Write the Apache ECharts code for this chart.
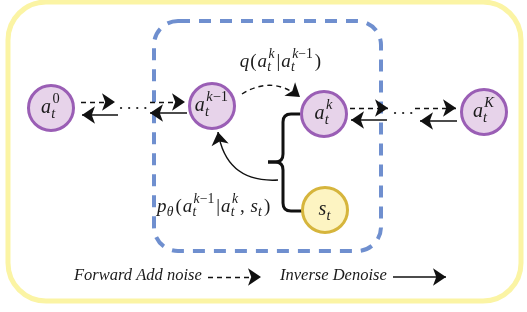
<!DOCTYPE html>
<html>
<head>
<meta charset="utf-8">
<script src="https://cdn.jsdelivr.net/npm/echarts@6/dist/echarts.min.js"></script>
<style>
    html, body { margin: 0; padding: 0; background: #fff; }
    #chart { width: 527px; height: 312px; }
</style>
</head>
<body>
<div id="chart"></div>
<script>
    // diagram nodes (x, y in the picture's pixel grid)
    var nodeX = [51, 212, 324, 484, 325];
    var nodeY = [108, 106, 114, 112, 210];
    var nodeKind = ['a', 'a', 'a', 'a', 's'];
    var nodeText = ['a_t^0', 'a_t^{k−1}', 'a_t^k', 'a_t^K', 's_t'];

    // forward (add noise) arrows, dashed
    var forwardFrom = [[81, 102], [150, 102], [350, 108], [415, 108], [242, 94], [208, 277]];
    var forwardTo = [[115, 102], [185, 102], [388, 108], [456, 108], [300, 97], [261, 277]];
    var forwardBend = [0, 0, 0, 0, 0.35, 0];

    // inverse (denoise) arrows, solid
    var inverseFrom = [[118, 115], [187, 113], [387, 120], [457, 121], [278, 180], [393, 277]];
    var inverseTo = [[82, 115], [150, 113], [351, 120], [420, 121], [218, 132], [446, 277]];
    var inverseBend = [0, 0, 0, 0, 0.45, 0];

    // dotted gaps in the chain
    var dotsFrom = [[121, 108], [395, 113]];
    var dotsTo = [[147, 108], [414, 113]];

    // curly brace joining a_t^k and s_t
    var braceUpper = [[300, 114], [283, 114], [283, 162], [268, 162]];
    var braceLower = [[268, 162], [283, 162], [283, 211], [302, 211]];

    // frames: outer box and the dashed step box
    var frameBox = [[8, 2, 521, 301], [154, 21, 381, 251]];

    // text labels
    var labelText = ['q(a_t^k|a_t^{k−1})', 'p_θ(a_t^{k−1}|a_t^k,\u2009s_t)', 'Forward Add noise', 'Inverse Denoise'];
    var labelX = [281, 157, 74, 280];
    var labelY = [62, 207, 276, 276];
    var labelMode = ['math', 'math', 'text', 'text'];
    var labelAlign = ['center', 'left', 'left', 'left'];
    var labelSize = [19, 19, 16.5, 16.5];

    var serif = '"Liberation Serif", "DejaVu Serif", serif';
    var measureCtx = document.createElement('canvas').getContext('2d');

    function fontOf(size, italic) {
        return (italic ? 'italic ' : '') + size + 'px ' + serif;
    }
    function widthOf(s, size, italic) {
        measureCtx.font = fontOf(size, italic);
        return measureCtx.measureText(s).width;
    }

    // tiny parser: base chars with optional _sub / ^sup
    function parseTex(str) {
        var groups = [];
        var i = 0;
        function readArg() {
            if (str[i] === '{') {
                var j = str.indexOf('}', i);
                var a = str.slice(i + 1, j);
                i = j + 1;
                return a;
            }
            return str[i++];
        }
        while (i < str.length) {
            var c = str[i];
            if ((c === '_' || c === '^') && groups.length) {
                i++;
                var arg = readArg();
                if (c === '_') groups[groups.length - 1].sub = arg;
                else groups[groups.length - 1].sup = arg;
            } else {
                groups.push({b: c, sub: '', sup: ''});
                i++;
            }
        }
        return groups;
    }

    function isLetter(c) {
        return /[A-Za-zθ]/.test(c);
    }

    // lays out a string as a list of text pieces
    function layoutText(str, mode, size, gap) {
        var pieces = [];
        var x = 0;
        if (mode === 'text') {
            pieces.push({s: str, x: 0, dy: 0, size: size, italic: true});
            return {pieces: pieces, width: widthOf(str, size, true)};
        }
        var small = size * 0.72;
        parseTex(str).forEach(function (g) {
            var it = isLetter(g.b);
            pieces.push({s: g.b, x: x, dy: 0, size: size, italic: it});
            x += widthOf(g.b, size, it);
            var wSup = 0, wSub = 0;
            [['sup', -0.42], ['sub', 0.3]].forEach(function (k) {
                var t = g[k[0]];
                if (!t) return;
                var off = k[0] === 'sub' ? size * 0.01 : size * 0.07;
                var w = 0;
                for (var n = 0; n < t.length; n++) {
                    var ch = t[n];
                    var ci = isLetter(ch);
                    pieces.push({s: ch, x: x + off + w, dy: k[1] * size, size: small, italic: ci});
                    w += widthOf(ch, small, ci);
                }
                if (k[0] === 'sup') wSup = w + off; else wSub = w + off;
            });
            x += Math.max(wSup, wSub, 0) + (wSup || wSub ? size * 0.06 : 0) + size * gap;
        });
        return {pieces: pieces, width: x};
    }

    function renderLabel(x, y, str, mode, size, align, gap) {
        var lay = layoutText(str, mode, size, gap || 0);
        var x0 = align === 'center' ? x - lay.width / 2 : x;
        return {
            type: 'group',
            children: lay.pieces.map(function (p) {
                return {
                    type: 'text',
                    style: {
                        text: p.s, x: x0 + p.x, y: y + p.dy,
                        font: fontOf(p.size, p.italic),
                        fill: '#1a1a1a', align: 'left', verticalAlign: 'middle'
                    }
                };
            })
        };
    }

    function arrowData(from, to, bend) {
        return from.map(function (f, i) {
            return {coords: [f, to[i]], lineStyle: {curveness: bend ? bend[i] : 0}};
        });
    }

    // polyline with rounded corners for the brace
    function roundedPath(pts, r) {
        var d = 'M' + pts[0][0] + ',' + pts[0][1];
        for (var i = 1; i < pts.length - 1; i++) {
            var p = pts[i], a = pts[i - 1], b = pts[i + 1];
            var la = Math.hypot(p[0] - a[0], p[1] - a[1]);
            var lb = Math.hypot(b[0] - p[0], b[1] - p[1]);
            var ra = Math.min(r, la / 2), rb = Math.min(r, lb / 2);
            var s = [p[0] + (a[0] - p[0]) * ra / la, p[1] + (a[1] - p[1]) * ra / la];
            var e = [p[0] + (b[0] - p[0]) * rb / lb, p[1] + (b[1] - p[1]) * rb / lb];
            d += ' L' + s[0] + ',' + s[1] + ' Q' + p[0] + ',' + p[1] + ' ' + e[0] + ',' + e[1];
        }
        var last = pts[pts.length - 1];
        return d + ' L' + last[0] + ',' + last[1];
    }

    var chart = echarts.init(document.getElementById('chart'));

    var option = {
        animation: false,
        backgroundColor: '#ffffff',
        grid: {left: 0, right: 0, top: 0, bottom: 0},
        xAxis: {type: 'value', min: 0, max: 527, show: false},
        yAxis: {type: 'value', min: 0, max: 312, inverse: true, show: false},
        series: [
            {
                type: 'custom',
                z: 1,
                data: frameBox,
                renderItem: function (params, api) {
                    var p1 = api.coord([api.value(0), api.value(1)]);
                    var p2 = api.coord([api.value(2), api.value(3)]);
                    var outer = params.dataIndex === 0;
                    return {
                        type: 'rect',
                        shape: {x: p1[0], y: p1[1], width: p2[0] - p1[0], height: p2[1] - p1[1], r: outer ? 38 : 24},
                        style: outer
                            ? {fill: '#ffffff', stroke: '#fbf4a4', lineWidth: 5}
                            : {fill: 'none', stroke: '#6f8fcf', lineWidth: 4, lineDash: [12, 9]}
                    };
                }
            },
            {
                type: 'lines',
                coordinateSystem: 'cartesian2d',
                z: 3,
                symbol: ['none', 'arrow'],
                symbolSize: 13,
                lineStyle: {color: '#111', width: 1.4, type: [5, 4], opacity: 1},
                data: arrowData(forwardFrom, forwardTo, forwardBend)
            },
            {
                type: 'lines',
                coordinateSystem: 'cartesian2d',
                z: 3,
                symbol: ['none', 'arrow'],
                symbolSize: 13,
                lineStyle: {color: '#111', width: 1.5, type: 'solid', opacity: 1},
                data: arrowData(inverseFrom, inverseTo, inverseBend)
            },
            {
                type: 'lines',
                coordinateSystem: 'cartesian2d',
                z: 3,
                symbol: 'none',
                lineStyle: {color: '#222', width: 2.2, type: [0.1, 8], cap: 'round', opacity: 1},
                data: arrowData(dotsFrom, dotsTo)
            },
            {
                type: 'custom',
                z: 3,
                data: [0, 1],
                renderItem: function (params, api) {
                    var pts = (params.dataIndex === 0 ? braceUpper : braceLower).map(function (p) {
                        return api.coord(p);
                    });
                    return {
                        type: 'path',
                        shape: {pathData: roundedPath(pts, 8)},
                        style: {fill: 'none', stroke: '#111', lineWidth: 3}
                    };
                }
            },
            {
                type: 'scatter',
                z: 4,
                symbolSize: 45,
                data: nodeX.map(function (x, i) {
                    var a = nodeKind[i] === 'a';
                    return {
                        value: [x, nodeY[i]],
                        itemStyle: {
                            color: a ? '#e7d3ea' : '#fdf4c2',
                            borderColor: a ? '#9a5eb5' : '#d6b53c',
                            borderWidth: 3, opacity: 1
                        }
                    };
                })
            },
            {
                type: 'custom',
                z: 5,
                data: nodeX.map(function (x, i) { return [x, nodeY[i], i]; }),
                renderItem: function (params, api) {
                    var p = api.coord([api.value(0), api.value(1)]);
                    return renderLabel(p[0], p[1], nodeText[api.value(2)], 'math', 20, 'center', 0);
                }
            },
            {
                type: 'custom',
                z: 5,
                data: labelX.map(function (x, i) { return [x, labelY[i], i]; }),
                renderItem: function (params, api) {
                    var p = api.coord([api.value(0), api.value(1)]);
                    var i = api.value(2);
                    return renderLabel(p[0], p[1], labelText[i], labelMode[i], labelSize[i], labelAlign[i], 0.05);
                }
            }
        ]
    };

    chart.setOption(option);
</script>
</body>
</html>
